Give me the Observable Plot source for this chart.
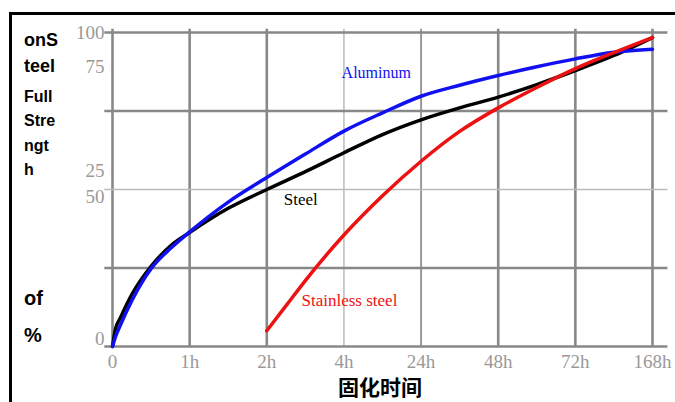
<!DOCTYPE html>
<html>
<head>
<meta charset="utf-8">
<script src="https://cdn.jsdelivr.net/npm/d3@7"></script>
<script src="https://cdn.jsdelivr.net/npm/@observablehq/plot@0.6"></script>
<style>
  html, body { margin: 0; padding: 0; background: #fff; }
  #wrap { position: relative; width: 675px; height: 402px; overflow: hidden; }
  #frame { position: absolute; left: 9px; top: 12px; width: 700px; height: 420px; border-left: 3px solid #000; border-top: 3px solid #000; box-sizing: border-box; }
  .lbl { position: absolute; left: 24px; font-family: "Liberation Sans Narrow", "Liberation Sans", Arial, sans-serif; font-weight: bold; color: #000; line-height: 1; }
  .lbl2 { position: absolute; left: 24px; font-family: "Liberation Sans", Arial, sans-serif; font-weight: bold; color: #000; line-height: 1; }
  #xtitle { position: absolute; left: 0; width: 760px; text-align: center; top: 376px; font-family: "Noto Sans CJK SC", sans-serif; font-weight: bold; font-size: 21px; line-height: 1; }
  #chart { position: absolute; left: 0; top: 0; }
</style>
</head>
<body>
<div id="wrap">
  <div id="chart"></div>
  <div id="frame"></div>
  <div class="lbl" style="top:31px;font-size:18px">onS</div>
  <div class="lbl" style="top:57px;font-size:18px">teel</div>
  <div class="lbl" style="top:89px;font-size:16px">Full</div>
  <div class="lbl" style="top:113px;font-size:16px">Stre</div>
  <div class="lbl" style="top:138px;font-size:16px">ngt</div>
  <div class="lbl" style="top:162px;font-size:16px">h</div>
  <div class="lbl2" style="top:288px;font-size:20px">of</div>
  <div class="lbl2" style="top:325px;font-size:20px">%</div>
  <div id="xtitle">固化时间</div>
</div>
<script>
// x positions are category indices: 0,1h,2h,4h,24h,48h,72h,168h
const xLabels = ["0", "1h", "2h", "4h", "24h", "48h", "72h", "168h"];
const xTicks = [0, 1, 2, 3, 4, 5, 6, 7];
const yLabelText = ["100", "75", "25", "50", "0"];
const yLabelPos = [100, 88.9, 56, 47.8, 2.5];

const steelX = [0, 0.04, 0.1, 0.25, 0.5, 0.75, 1, 1.5, 2, 2.5, 3, 3.5, 4, 4.5, 5, 5.5, 6, 6.5, 7];
const steelY = [0, 5.7, 9, 16.5, 25.5, 32, 36.3, 44, 50, 55.7, 61.7, 67.5, 72.2, 76, 79.4, 83.4, 87.9, 92.7, 98.4];
const aluX = [0, 0.04, 0.1, 0.25, 0.5, 0.75, 1, 1.5, 2, 2.5, 3, 3.5, 4, 4.5, 5, 5.5, 6, 6.5, 7];
const aluY = [0, 3.2, 6.7, 14.6, 24.8, 31.2, 36.5, 46, 53.8, 61.3, 68.6, 74.4, 79.7, 83.2, 86.3, 89.1, 91.6, 93.7, 94.7];
const ssX = [2, 2.25, 2.5, 3, 3.5, 4, 4.5, 5, 5.5, 6, 6.5, 7];
const ssY = [5, 13, 21, 35.5, 48, 59, 68.5, 76, 82.5, 88.5, 93.6, 98.4];

const labelNames = ["Aluminum", "Steel", "Stainless steel"];
const labelX = [2.97, 2.22, 2.45];
const labelY = [87, 46.8, 14.6];
const labelColors = ["#1010f0", "#000000", "#ee1111"];
const labelSizes = [16, 17, 17];

const toPts = (xs, ys) => xs.map((x, i) => ({x, y: ys[i]}));
const thickV = [0, 1, 2, 5, 6, 7];
const thinV = [3];
const medV = [4];
const thickH = [0, 25, 75, 100];
const thinH = [50];

const chart = Plot.plot({
  width: 675,
  height: 402,
  marginLeft: 112,
  marginRight: 23,
  marginTop: 32,
  marginBottom: 56,
  x: {domain: [0, 7]},
  y: {domain: [0, 100], axis: null},
  style: {background: "transparent", overflow: "visible"},
  marks: [
    Plot.ruleX(thinV, {x: d => d, y1: 0, y2: 101, stroke: "#bbb", strokeWidth: 1.5}),
    Plot.ruleX(medV, {x: d => d, y1: 0, y2: 101, stroke: "#999", strokeWidth: 2}),
    Plot.ruleX(thickV, {x: d => d, y1: 0, y2: 101, stroke: "#888", strokeWidth: 2.6}),
    Plot.ruleY(thinH, {y: d => d, x1: -0.1, x2: 7.2, stroke: "#bbb", strokeWidth: 1.5}),
    Plot.ruleY(thickH, {y: d => d, x1: -0.1, x2: 7.2, stroke: "#888", strokeWidth: 2.6}),
    Plot.line(toPts(steelX, steelY), {x: "x", y: "y", stroke: "#000", strokeWidth: 3.5, curve: "monotone-x"}),
    Plot.line(toPts(aluX, aluY), {x: "x", y: "y", stroke: "#1010f0", strokeWidth: 3.5, curve: "monotone-x"}),
    Plot.line(toPts(ssX, ssY), {x: "x", y: "y", stroke: "#ee1111", strokeWidth: 3.5, curve: "monotone-x"}),
    Plot.text(labelNames, {
      x: (d, i) => labelX[i], y: (d, i) => labelY[i], text: d => d,
      fill: (d, i) => labelColors[i], textAnchor: "start",
      fontSize: (d, i) => labelSizes[i],
      fontFamily: "Liberation Serif, Times New Roman, serif"
    }),
    Plot.text(yLabelText, {
      y: (d, i) => yLabelPos[i], text: d => d, frameAnchor: "left", dx: -8,
      textAnchor: "end", fill: "#999", fontSize: 19,
      fontFamily: "Liberation Serif, Times New Roman, serif"
    }),
    Plot.axisX({
      ticks: xTicks, tickFormat: i => xLabels[i], tickSize: 0, tickPadding: 8,
      fill: "#999", fontSize: 19, fontFamily: "Liberation Serif, Times New Roman, serif", label: null
    })
  ]
});
document.getElementById("chart").appendChild(chart);
</script>
</body>
</html>
